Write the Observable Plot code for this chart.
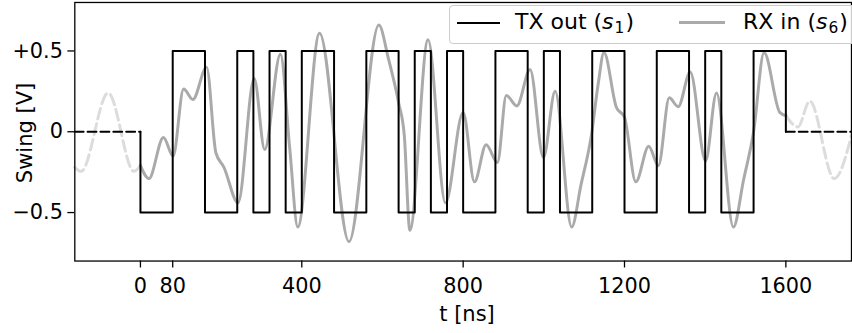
<!DOCTYPE html>
<html><head><meta charset="utf-8">
<script src="https://cdn.jsdelivr.net/npm/d3@7"></script>
<script src="https://cdn.jsdelivr.net/npm/@observablehq/plot@0.6"></script>
<style>
html,body{margin:0;padding:0;background:#fff;overflow:hidden;}
#wrap{position:relative;width:852px;height:333px;overflow:hidden;font-family:"DejaVu Sans",sans-serif;}
#chart{position:absolute;left:0;top:0;}
.lbl{position:absolute;font-size:21px;color:#000;white-space:nowrap;line-height:24px;}
.leg{font-size:22px;}
.legend{position:absolute;left:449px;top:5px;width:430px;height:37px;border:1px solid #cccccc;border-radius:4px;background:rgba(255,255,255,0.8);}
.sample{position:absolute;}
i{font-style:italic;}
sub{font-size:0.7em;vertical-align:-0.25em;line-height:0;margin-left:1px;margin-right:1px;}
</style>
</head><body>
<div id="wrap">
  <div id="chart"></div>
  <div class="legend"></div>
  <div class="sample" style="left:457px;top:21.5px;width:43px;height:2px;background:#000;"></div>
  <div class="lbl leg" style="left:515px;top:10.4px;">TX out (<i>s</i><sub>1</sub>)</div>
  <div class="sample" style="left:679px;top:21px;width:46px;height:3px;background:#aaaaaa;"></div>
  <div class="lbl leg" style="left:743px;top:10.4px;">RX in (<i>s</i><sub>6</sub>)</div>
  <div class="lbl" id="ylab" style="left:25px;top:132.5px;transform:translate(-50%,-50%) rotate(-90deg);">Swing [V]</div>
  <div class="lbl" id="xlab" style="left:467px;top:301.7px;transform:translateX(-50%);">t [ns]</div>
</div>
<script>
// TX square wave: edge times (ns) and level after each edge (V)
const txEdges  = [0, 80, 160, 240, 280, 320, 360, 400, 480, 560, 640, 680, 720, 760, 800, 880, 960, 1000, 1040, 1120, 1200, 1280, 1360, 1400, 1440, 1520, 1600];
const txLevels = [-0.5, 0.5, -0.5, 0.5, -0.5, 0.5, -0.5, 0.5, -0.5, 0.5, -0.5, 0.5, -0.5, 0.5, -0.5, 0.5, -0.5, 0.5, -0.5, 0.5, -0.5, 0.5, -0.5, 0.5, -0.5, 0.5, 0];
// TX idle level outside the burst
const txIdleT = [-163, 0];
const txIdleT2 = [1600, 1763];
const txIdleV = 0;

// RX received waveform (solid part, 0..1600 ns)
const rxT = [0, 21, 57, 81, 107, 130, 164, 187, 207, 242, 282, 308, 347, 370, 390, 444, 517, 591, 615, 640, 654, 668, 713, 756, 800, 828, 857, 885, 907, 933, 966, 999, 1028, 1069, 1092, 1118, 1135, 1149, 1180, 1200, 1228, 1260, 1284, 1311, 1333, 1363, 1401, 1428, 1470, 1495, 1520, 1546, 1585, 1600];
const rxV = [-0.21, -0.29, -0.035, -0.15, 0.265, 0.20, 0.40, -0.13, -0.22, -0.44, 0.33, -0.11, 0.48, -0.10, -0.59, 0.61, -0.68, 0.66, 0.45, 0.18, -0.02, -0.61, 0.57, -0.44, 0.12, -0.31, -0.08, -0.19, 0.225, 0.16, 0.385, -0.16, 0.25, -0.59, -0.33, -0.02, 0.30, 0.49, 0.15, 0.09, -0.31, -0.09, -0.21, 0.21, 0.155, 0.37, -0.18, 0.24, -0.59, -0.30, 0.0, 0.49, 0.12, 0.10];
// RX outside the burst (dashed, faded)
const rxPreT  = [-163, -147, -80, -16, 0];
const rxPreV  = [-0.22, -0.245, 0.24, -0.245, -0.21];
const rxPostT = [1600, 1630, 1659, 1720, 1763];
const rxPostV = [0.10, 0.03, 0.19, -0.29, -0.02];

// axes
const xDomain = [-162.7, 1762.7];
const yDomain = [-0.8, 0.8];
const xTicks = [0, 80, 400, 800, 1200, 1600];
const xTickLabels = ["0", "80", "400", "800", "1200", "1600"];
const yTicks = [-0.5, 0, 0.5];
const yTickLabels = ["\u22120.5", "0", "+0.5"];

const pts = (T, V) => T.map((t, i) => ({t, v: Array.isArray(V) ? V[i] : V}));
const tx = [{t: txEdges[0], v: txIdleV}, ...pts(txEdges, txLevels)];

const chart = Plot.plot({
  width: 860, height: 333,
  marginLeft: 75, marginRight: 1, marginTop: 2, marginBottom: 70,
  style: {fontSize: "21px", fontFamily: "DejaVu Sans", background: "white", color: "black", overflow: "visible"},
  x: {domain: xDomain},
  y: {domain: yDomain},
  marks: [
    Plot.line(pts(rxPreT, rxPreV), {x: "t", y: "v", stroke: "#dcdcdc", strokeWidth: 3, strokeDasharray: "11,5", curve: "monotone-x"}),
    Plot.line(pts(rxPostT, rxPostV), {x: "t", y: "v", stroke: "#dcdcdc", strokeWidth: 3, strokeDasharray: "11,5", curve: "monotone-x"}),
    Plot.line(pts(rxT, rxV), {x: "t", y: "v", stroke: "#aaaaaa", strokeWidth: 3, curve: "monotone-x"}),
    Plot.line(pts(txIdleT, txIdleV), {x: "t", y: "v", stroke: "black", strokeWidth: 2, strokeDasharray: "9,4"}),
    Plot.line(pts(txIdleT2, txIdleV), {x: "t", y: "v", stroke: "black", strokeWidth: 2, strokeDasharray: "9,4"}),
    Plot.line(tx, {x: "t", y: "v", stroke: "black", strokeWidth: 2, curve: "step-after"}),
    Plot.axisX({ticks: xTicks, tickFormat: (d, i) => xTickLabels[xTicks.indexOf(d)], tickSize: 7, tickPadding: 10, label: null, strokeWidth: 1.3}),
    Plot.axisY({ticks: yTicks, tickFormat: (d) => yTickLabels[yTicks.indexOf(d)], tickSize: 7, tickPadding: 5, label: null, strokeWidth: 1.3}),
    Plot.frame({stroke: "black", strokeWidth: 1.3})
  ]
});
document.getElementById("chart").appendChild(chart);
</script>
</body></html>
